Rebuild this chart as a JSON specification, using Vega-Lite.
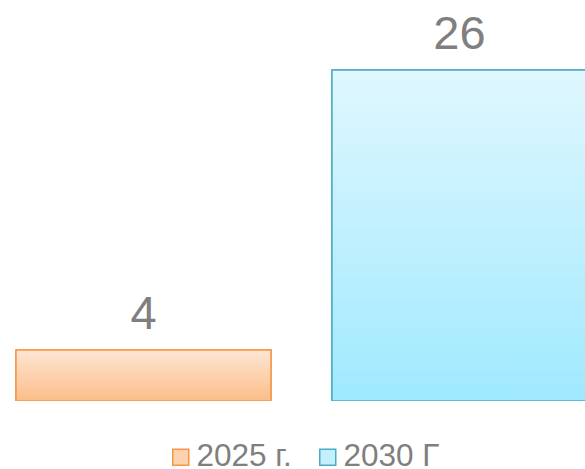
{
  "$schema": "https://vega.github.io/schema/vega-lite/v6.json",
  "width": 585,
  "height": 401,
  "padding": 0,
  "autosize": {"type": "pad"},
  "background": "white",
  "config": {"view": {"stroke": null}},
  "data": {"values": [
    {"year": "2025 г.", "value": 4},
    {"year": "2030 Г", "value": 26}
  ]},
  "encoding": {
    "x": {"field": "year", "type": "nominal", "axis": null, "sort": null,
      "scale": {"range": [0, 603], "paddingInner": 0.193, "paddingOuter": 0.0506}},
    "y": {"field": "value", "type": "quantitative", "axis": null,
      "scale": {"domain": [0, 31.5], "nice": false, "zero": true}}
  },
  "layer": [
    {
      "mark": {"type": "bar", "clip": true, "strokeWidth": 1.5},
      "encoding": {
        "fill": {"field": "year", "type": "nominal",
          "scale": {"range": ["#FDD2AE", "#C4F0FE"]},
          "legend": {"title": null, "orient": "none", "legendX": 165, "legendY": 441,
            "direction": "horizontal", "symbolType": "square", "symbolSize": 256,
            "symbolStrokeWidth": 1.5, "labelFont": "Liberation Sans", "labelFontSize": 31.5,
            "labelColor": "#7F7F7F", "labelOffset": 0, "columnPadding": 20, "padding": 0,
            "symbolOpacity": 1,
            "encode": {"symbols": {"update": {
              "stroke": {"signal": "datum.value === '2025 г.' ? '#F79646' : '#4BACC6'"},
              "strokeWidth": {"value": 1.5}}}}}},
        "stroke": {"field": "year", "type": "nominal",
          "scale": {"range": ["#F79646", "#4BACC6"]}, "legend": null}
      }
    },
    {
      "mark": {"type": "bar", "clip": true, "strokeWidth": 1.5},
      "encoding": {
        "fill": {
          "condition": {"test": "datum.year === '2025 г.'",
            "value": {"gradient": "linear", "x1": 0, "y1": 0, "x2": 0, "y2": 1,
              "stops": [{"offset": 0, "color": "#FEE6D4"}, {"offset": 1, "color": "#FBBD89"}]}},
          "value": {"gradient": "linear", "x1": 0, "y1": 0, "x2": 0, "y2": 1,
            "stops": [{"offset": 0, "color": "#E0F7FE"}, {"offset": 1, "color": "#9FE9FF"}]}
        },
        "stroke": {"field": "year", "type": "nominal", "legend": null}
      }
    },
    {
      "mark": {"type": "text", "baseline": "alphabetic", "dy": -21, "font": "Liberation Sans",
        "fontSize": 47, "color": "#7F7F7F"},
      "encoding": {"text": {"field": "value", "type": "quantitative"}}
    }
  ]
}
